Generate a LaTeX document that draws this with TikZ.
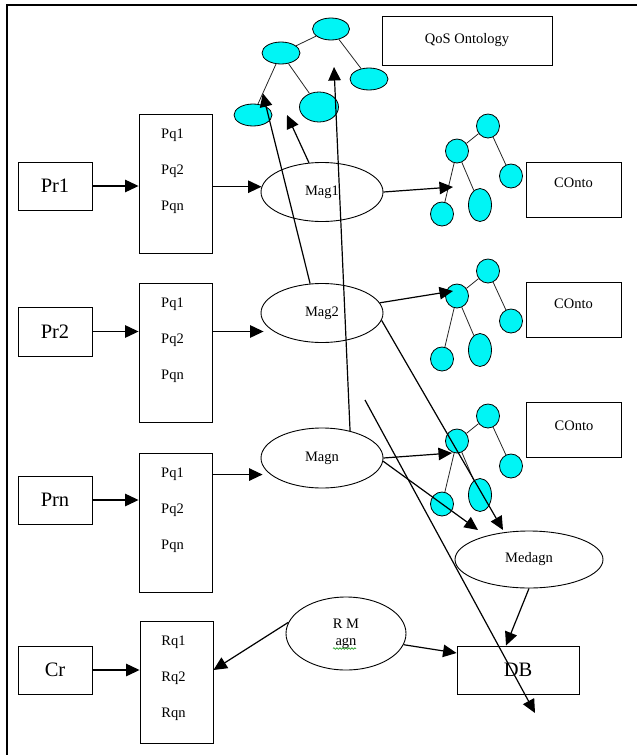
\documentclass[tikz,border=0pt]{standalone}
\usepackage{fontspec}
\setmainfont{Liberation Serif}
\usetikzlibrary{shapes.geometric,arrows.meta,calc,decorations.pathmorphing}
\definecolor{onto}{RGB}{0,245,245}
\begin{document}
\begin{tikzpicture}[x=1pt,y=-1pt,
  rbox/.style={draw, line width=0.9pt, inner sep=0pt, font=\fontsize{20.5}{24}\selectfont},
  qbox/.style={draw, line width=0.9pt, inner sep=0pt, minimum width=73pt, minimum height=139pt},
  sm/.style={font=\fontsize{14.5}{17}\selectfont, inner sep=0pt},
  ell/.style={ellipse, draw, line width=0.9pt, inner sep=0pt, font=\fontsize{14.5}{17}\selectfont, minimum width=122pt, minimum height=59pt},
  cbox/.style={draw, line width=0.9pt, inner sep=0pt, minimum width=95pt, minimum height=55pt},
  tn/.style={ellipse, draw, fill=onto, line width=0.8pt, inner sep=0pt, minimum width=23pt, minimum height=24pt},
  arr/.style={-{Triangle[length=13.5pt,width=12.5pt]}, line width=1.2pt},
  tedge/.style={line width=0.8pt, draw=black!85}]
\useasboundingbox (0,0) rectangle (637,755);
% frame
\draw[line width=2pt] (7,755) -- (7,5) -- (637,5);

% left boxes
\node[rbox, minimum width=74pt, minimum height=48pt] (pr1) at (55,186) {Pr1};
\node[rbox, minimum width=74pt, minimum height=49pt] (pr2) at (55,331.5) {Pr2};
\node[rbox, minimum width=74pt, minimum height=48pt] (prn) at (55,500) {Prn};
\node[rbox, minimum width=74pt, minimum height=48pt] (cr) at (55,670) {Cr};

% property boxes
\node[qbox] (pqA) at (175.5,183.5) {};
\node[qbox] (pqB) at (175.5,352.5) {};
\node[qbox] (pqC) at (175.5,522.5) {};
\node[qbox, minimum height=122pt] (rq) at (176.5,682) {};
\foreach \b in {pqA,pqB,pqC} {
  \node[sm] (\b1) at ($(\b.north)+(-3,22)$) {Pq1};
  \node[sm] (\b2) at ($(\b.north)+(-3,58)$) {Pq2};
  \node[sm] (\b3) at ($(\b.north)+(-3,94)$) {Pqn};
}
\node[sm] (rq1) at ($(rq.north)+(-3,22)$) {Rq1};
\node[sm] (rq2) at ($(rq.north)+(-3,58)$) {Rq2};
\node[sm] (rq3) at ($(rq.north)+(-3,94)$) {Rqn};

% agents
\node[ell] (mag1) at (322,192) {Mag1};
\node[ell] (mag2) at (322,313) {Mag2};
\node[ell, minimum height=60pt] (magn) at (322,458) {Magn};
\node[ell, minimum width=148pt, minimum height=57pt] (medagn) at (529,559.5) {Medagn};
\node[ell, minimum width=120pt, minimum height=73pt, align=center] (rmagn) at (346,633.5) {R M\\agn};
\draw[green!55!black, line width=0.6pt, decorate, decoration={snake, amplitude=0.8pt, segment length=3pt}]
  ($(rmagn)+(-13,15)$) -- ($(rmagn)+(10,15)$);

% QoS ontology
\node[draw, line width=0.9pt, minimum width=170pt, minimum height=49pt, sm] (qos) at (467,40.5) {QoS Ontology};
\node[tn, minimum width=37pt, minimum height=22pt] (qA) at (331,29) {};
\node[tn, minimum width=38pt, minimum height=22pt] (qB) at (281,53) {};
\node[tn, minimum width=38pt, minimum height=22pt] (qC) at (369,79) {};
\node[tn, minimum width=38pt, minimum height=22pt] (qD) at (253,115) {};
\node[tn, minimum width=39pt, minimum height=30pt] (qE) at (319,107) {};
\draw[tedge] (qA) -- (qB);
\draw[tedge] (qA) -- (qC);
\draw[tedge] (qB) -- (qD);
\draw[tedge] (qB) -- (qE);

% concept ontologies
\foreach \i/\dy in {1/0,2/145,3/290} {
  \node[tn] (tT\i) at (488,126+\dy) {};
  \node[tn] (tL\i) at (457,151+\dy) {};
  \node[tn] (tR\i) at (511,176+\dy) {};
  \node[tn] (tB\i) at (442,214+\dy) {};
  \node[tn, minimum height=33pt] (tM\i) at (480,205+\dy) {};
  \draw[tedge] (tT\i) -- (tL\i);
  \draw[tedge] (tT\i) -- (tR\i);
  \draw[tedge] (tL\i) -- (tB\i);
  \draw[tedge] (tL\i) -- (tM\i);
}
\node[cbox] (c1) at (573.5,189.5) {};
\node[sm] (c1t) at (573.5,183) {COnto};
\node[cbox] (c2) at (573.5,309.5) {};
\node[sm] (c2t) at (573.5,304) {COnto};
\node[cbox] (c3) at (574,430) {};
\node[sm] (c3t) at (574,426) {COnto};

% DB
\node[rbox, minimum width=122pt, minimum height=48pt] (db) at (518,670) {DB};

% free line ends and tips
\coordinate (fs) at (365,400);
\coordinate (fe) at (535,713);
\coordinate (k1) at ($(tL1)+(-4,36)$);
\coordinate (k2) at ($(tL2)+(-4,-5)$);
\coordinate (k3) at ($(tL3)+(-5,12)$);

% connectors
\draw[arr] (pr1.east) -- (pr1.east -| pqA.west);
\draw[arr] (mag1.175 -| pqA.east) -- (mag1.175);
\draw[arr] (pr2.east) -- (pr2.east -| pqB.west);
\draw[arr] (pr2.east -| pqB.east) -- ([xshift=3pt]pr2.east -| mag2.west);
\draw[arr] (prn.east) -- (prn.east -| pqC.west);
\draw[arr] (pqC1 -| pqC.east) -- ([xshift=2pt]pqC1 -| magn.west);
\draw[arr] (cr.east) -- (cr.east -| rq.west);
\draw[arr] (rmagn.169) -- (rq.east |- cr.east);
\draw[arr] (rmagn.-11) -- ([yshift=17pt]db.west);
\draw[arr] (medagn.south) -- ([xshift=-12pt]db.north);
\draw[arr] (fs) -- (fe);
\draw[arr] (mag1.east) -- (k1);
\draw[arr] (mag2.10) -- (k2);
\draw[arr] (magn.east) -- (k3);
\draw[arr] (magn.-3) -- ($(medagn)+(-51,-29.5)$);
\draw[arr] (mag2.-7) -- ($(medagn)+(-26,-29.5)$);
\draw[arr] (magn.44) -- ($(qE)+(15,-40)$);
\draw[arr] (mag2.112) -- ($(qB)!0.65!(qD)$);
\draw[arr] (mag1.114) -- ($(qE)+(-32,8)$);
\end{tikzpicture}
\end{document}
